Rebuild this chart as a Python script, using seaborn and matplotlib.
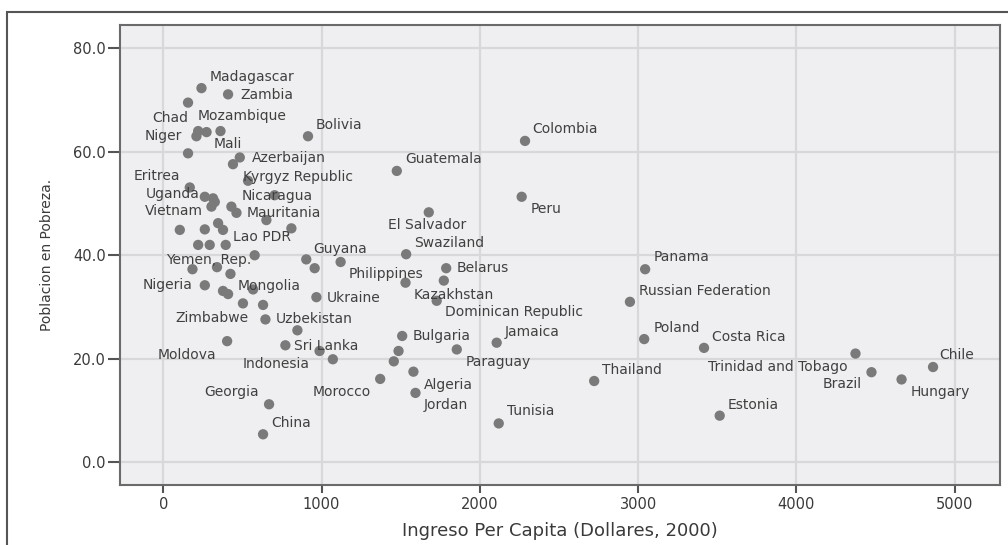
import numpy as np
import pandas as pd

import matplotlib
matplotlib.use("Agg")
import matplotlib.pyplot as plt
import seaborn as sns
from matplotlib.patches import Rectangle

#####################################
### DATA
#####################################
country = [
    "Madagascar", "Zambia", "Chad", "", "Mali", "Niger", "Mozambique", "Bolivia",
    "", "Azerbaijan", "", "Kyrgyz Republic", "Eritrea", "Uganda", "", "",
    "Vietnam", "", "Nicaragua", "Mauritania", "", "", "", "",
    "Lao PDR", "", "", "", "", "", "Guyana", "",
    "Philippines", "Yemen, Rep.", "", "Mongolia", "Nigeria", "", "", "",
    "Ukraine", "Zimbabwe", "", "Uzbekistan", "", "Moldova", "Sri Lanka", "Indonesia",
    "", "Georgia", "China", "Colombia", "Guatemala", "Peru", "El Salvador", "Swaziland",
    "Belarus", "Kazakhstan", "", "Dominican Republic", "Russian Federation", "Bulgaria",
    "Jamaica", "Paraguay", "", "", "Algeria", "Morocco", "Jordan", "Tunisia",
    "Thailand", "Panama", "Poland", "Costa Rica", "Trinidad and Tobago", "Chile",
    "Brazil", "Hungary", "Estonia",
]

ingreso = [
    241, 409, 156, 220, 273, 209, 361, 914,
    156, 483, 440, 535, 167, 262, 314, 325,
    304, 703, 430, 462, 651, 104, 262, 346,
    377, 809, 220, 293, 394, 577, 903, 956,
    1120, 184, 339, 424, 262, 377, 409, 567,
    967, 503, 630, 645, 847, 403, 771, 987,
    1071, 668, 630, 2285, 1475, 2264, 1677, 1534,
    1787, 1530, 1772, 1727, 2948, 1509,
    2106, 1854, 1486, 1456, 1580, 1370, 1593, 2119,
    2722, 3044, 3038, 3416, 4373, 4863,
    4474, 4664, 3515,
]

pobreza = [
    72.3, 71.1, 69.5, 64.0, 63.8, 63.0, 64.0, 63.0,
    59.7, 58.9, 57.6, 54.4, 53.1, 51.3, 51.0, 50.3,
    49.4, 51.6, 49.4, 48.2, 46.8, 44.9, 45.0, 46.2,
    44.9, 45.2, 42.0, 42.0, 42.0, 40.0, 39.2, 37.5,
    38.7, 37.3, 37.7, 36.4, 34.2, 33.1, 32.5, 33.4,
    31.9, 30.7, 30.4, 27.6, 25.5, 23.4, 22.6, 21.5,
    19.9, 11.2, 5.4, 62.1, 56.3, 51.3, 48.3, 40.2,
    37.5, 34.7, 35.1, 31.2, 31.0, 24.4,
    23.1, 21.8, 21.5, 19.5, 17.5, 16.1, 13.4, 7.5,
    15.7, 37.3, 23.8, 22.1, 21.0, 18.4,
    17.4, 16.0, 9.0,
]

x_ticks = [0, 1000, 2000, 3000, 4000, 5000]
y_ticks = [0, 20, 40, 60, 80]

# label placement: pixel offset from the dot and alignment
label_pos = {
    "Madagascar": (8, -11, "left"), "Zambia": (12, 1, "left"),
    "Chad": (0, 15, "right"), "Mozambique": (22, -15, "center"),
    "Niger": (-14, 0, "right"), "Mali": (21, 12, "center"),
    "Bolivia": (8, -11, "left"), "Azerbaijan": (12, 1, "left"),
    "Eritrea": (-10, -11, "right"), "Kyrgyz Republic": (-5, -4, "left"),
    "Uganda": (-5, -3, "right"), "Nicaragua": (10, -11, "left"),
    "Vietnam": (-9, 4, "right"), "Mauritania": (10, 0, "left"),
    "Lao PDR": (10, 7, "left"), "Yemen, Rep.": (16, -9, "center"),
    "Guyana": (7, -10, "left"), "Philippines": (8, 12, "left"),
    "Swaziland": (8, -11, "left"), "Belarus": (10, 0, "left"),
    "Kazakhstan": (8, 12, "left"), "Dominican Republic": (8, 11, "left"),
    "Nigeria": (-12, 0, "right"), "Mongolia": (7, 12, "left"),
    "Ukraine": (10, 1, "left"), "Zimbabwe": (-31, 15, "center"),
    "Uzbekistan": (10, 0, "left"), "Moldova": (-11, 14, "right"),
    "Sri Lanka": (9, 1, "left"), "Indonesia": (-10, 13, "right"),
    "Georgia": (-10, -12, "right"), "Morocco": (-9, 13, "right"),
    "China": (8, -11, "left"), "Colombia": (7, -12, "left"),
    "Guatemala": (8, -12, "left"), "Peru": (9, 12, "left"),
    "El Salvador": (-2, 13, "center"), "Bulgaria": (10, 0, "left"),
    "Jamaica": (8, -11, "left"), "Paraguay": (9, 13, "left"),
    "Algeria": (10, 13, "left"), "Jordan": (8, 12, "left"),
    "Tunisia": (8, -12, "left"), "Thailand": (8, -11, "left"),
    "Panama": (8, -12, "left"), "Russian Federation": (9, -11, "left"),
    "Poland": (9, -11, "left"), "Costa Rica": (8, -11, "left"),
    "Trinidad and Tobago": (-8, 13, "right"), "Chile": (6, -12, "left"),
    "Brazil": (-10, 12, "right"), "Hungary": (9, 13, "left"),
    "Estonia": (8, -11, "left"),
}

df = pd.DataFrame({"Pais": country, "Ingreso": ingreso, "Pobreza": pobreza})

#####################################
### PLOT
#####################################
sns.set_style("whitegrid", {
    "axes.facecolor": "#EFEFF1",
    "grid.color": "#D8D8DA",
    "axes.edgecolor": "#6A6A6A",
})
plt.rcParams["font.family"] = ["DejaVu Sans"]

fig = plt.figure(figsize=(10.08, 5.45), dpi=100)
ax = fig.add_axes([119.5 / 1008, 1 - 485 / 545, 880.5 / 1008, 460 / 545])

sns.scatterplot(
    data=df, x="Ingreso", y="Pobreza", ax=ax,
    color="#7A7A7A", s=55, edgecolor="none", linewidth=0, zorder=3,
)

for name, xv, yv in zip(country, ingreso, pobreza):
    if not name:
        continue
    dx, dy, ha = label_pos[name]
    ax.annotate(name, (xv, yv), xytext=(dx, -dy), textcoords="offset pixels",
                ha=ha, va="center", fontsize=10, color="#404040", zorder=4)

ax.set_xlim(-277, 5286)
ax.set_ylim(-4.4, 84.5)
ax.set_xticks(x_ticks)
ax.set_yticks(y_ticks)
ax.set_yticklabels(["{:.1f}".format(v) for v in y_ticks])
ax.grid(True, lw=1.6, color="#D8D8DA")
ax.set_axisbelow(True)
for sp in ax.spines.values():
    sp.set_linewidth(1.5)
    sp.set_color("#6A6A6A")

ax.tick_params(axis="x", direction="out", length=6, width=1.5, color="#555555",
               labelsize=10.5, labelcolor="#3A3A3A", pad=2.5, bottom=True)
ax.tick_params(axis="y", direction="out", length=9, width=1.5, color="#555555",
               labelsize=10.5, labelcolor="#3A3A3A", pad=1, left=True)

ax.set_xlabel("Ingreso Per Capita (Dollares, 2000)", fontsize=13, color="#3A3A3A", va="center")
ax.xaxis.set_label_coords(0.5, -0.1)
ax.set_ylabel("Poblacion en Pobreza.", fontsize=10, color="#3A3A3A", va="center")
ax.yaxis.set_label_coords(-0.082, 0.5)

# outer frame of the chart
fig.patches.append(Rectangle((7 / 1008, -0.1), 1.2, 1.1 - 11.7 / 545,
                             transform=fig.transFigure, fill=False,
                             edgecolor="#555555", lw=1.5))

fig.savefig("out.png", dpi=100)
